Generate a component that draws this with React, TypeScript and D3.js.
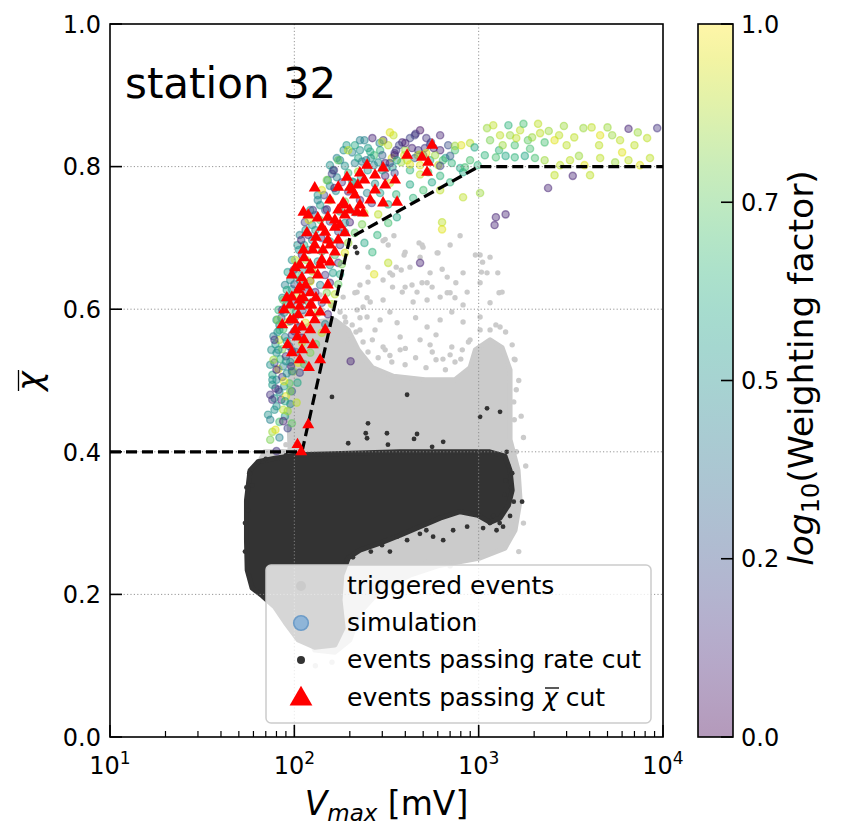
import React from 'react';
import * as d3 from 'd3';

const W = 841;
const H = 840;

// ---------- data ----------
const xTicks = [10, 100, 1000, 10000];
const xTickExp = ['1', '2', '3', '4'];
const yTicks = [0, 0.2, 0.4, 0.6, 0.8, 1.0];
const yTickLabels = ['0.0', '0.2', '0.4', '0.6', '0.8', '1.0'];
const gridX = [100, 1000];
const gridY = [0.2, 0.4, 0.6, 0.8];
const cbTicks = [0, 0.25, 0.5, 0.75, 1];
const cbTickLabels = ['0.0', '0.2', '0.5', '0.7', '1.0'];

// chi-bar cut line
const cutV = [10, 110, 200, 1000, 10000];
const cutChi = [0.4, 0.4, 0.7, 0.8, 0.8];

// dense core of triggered events (outline, [V mV, chi])
const triggeredCore: [number, number][] = [
  [94.8, 0.4], [93.6, 0.445], [94.8, 0.501], [97, 0.55], [107, 0.571], [129, 0.582], [166, 0.585], [196, 0.571],
  [222, 0.543], [265, 0.518], [345, 0.506], [511, 0.501], [744, 0.501], [898, 0.518], [960, 0.543], [1153, 0.557],
  [1340, 0.546], [1480, 0.515], [1480, 0.417], [1636, 0.374], [1678, 0.332], [1575, 0.29], [1390, 0.265],
  [1018, 0.251], [618, 0.241], [424, 0.227], [292, 0.206], [227, 0.175], [200, 0.136], [166, 0.119], [129, 0.122],
  [107, 0.178], [84, 0.248], [65, 0.332], [61, 0.374], [69, 0.4],
];
// scattered triggered events
const triggeredPoints: [number, number][] = [
  [303, 0.696], [347, 0.703], [311, 0.698], [475, 0.693], [499, 0.687], [793, 0.703], [700, 0.69], [602, 0.679],
  [399, 0.68], [394, 0.676], [481, 0.673], [251, 0.659], [357, 0.659], [380, 0.655], [424, 0.659], [341, 0.648],
  [545, 0.651], [634, 0.656], [675, 0.645], [823, 0.651], [1018, 0.676], [1153, 0.673], [1050, 0.666], [1110, 0.651],
  [1290, 0.623], [1018, 0.637], [227, 0.634], [219, 0.624], [303, 0.641], [341, 0.631], [385, 0.624], [435, 0.634],
  [493, 0.637], [559, 0.631], [700, 0.623], [752, 0.637], [866, 0.624], [618, 0.617], [303, 0.613], [258, 0.61],
  [823, 0.606], [1153, 0.609], [323, 0.69], [493, 0.69], [595, 0.679], [960, 0.676], [1035, 0.652], [1340, 0.624],
  [1270, 0.651], [251, 0.638], [330, 0.651], [399, 0.631], [463, 0.624], [525, 0.637], [675, 0.623], [744, 0.616],
  [525, 0.613], [441, 0.61], [248, 0.616], [219, 0.599], [248, 0.589], [292, 0.585], [330, 0.596], [361, 0.581],
  [455, 0.588], [525, 0.575], [618, 0.585], [715, 0.596], [823, 0.582], [1018, 0.589], [1153, 0.571], [1306, 0.575],
  [375, 0.561], [481, 0.557], [587, 0.564], [715, 0.547], [898, 0.557], [227, 0.571], [265, 0.557], [303, 0.547],
  [193, 0.557], [206, 0.578], [188, 0.589], [184, 0.617], [213, 0.623], [236, 0.603], [1600, 0.4], [1700, 0.45],
  [1750, 0.42], [1650, 0.5], [1560, 0.53], [1800, 0.38], [1750, 0.3], [1650, 0.26], [430, 0.235], [520, 0.245],
  [700, 0.24], [300, 0.22], [250, 0.2], [200, 0.175], [190, 0.14], [160, 0.105], [130, 0.1], [1550, 0.47],
  [400, 0.545], [560, 0.54], [640, 0.53], [800, 0.53], [330, 0.535], [1000, 0.545],
  [105, 0.578], [113, 0.592], [125, 0.613], [141, 0.599], [160, 0.606], [177, 0.596], [190, 0.582], [216, 0.568],
  [236, 0.554], [251, 0.54], [285, 0.532], [311, 0.543], [338, 0.526], [399, 0.522], [455, 0.532], [518, 0.518],
  [587, 0.529], [660, 0.515], [744, 0.526], [815, 0.543], [880, 0.554], [1018, 0.571], [1240, 0.578], [1400, 0.568],
  [1520, 0.55], [1575, 0.529], [1600, 0.487], [1560, 0.445], [375, 0.543], [545, 0.55], [274, 0.571], [227, 0.588],
  [156, 0.571], [138, 0.62], [122, 0.627], [103, 0.606], [107, 0.557], [700, 0.536], [292, 0.512], [90, 0.41],
  [86, 0.4], [80, 0.395],
];

// dense core of events passing the rate cut (outline)
const rateCutCore: [number, number][] = [
  [57.5, 0.374], [63.5, 0.386], [78.5, 0.391], [107, 0.396], [200, 0.398], [375, 0.4], [700, 0.4], [1150, 0.4],
  [1390, 0.394], [1480, 0.374], [1520, 0.346], [1450, 0.325], [1306, 0.307], [1153, 0.301], [990, 0.311],
  [793, 0.316], [618, 0.307], [481, 0.295], [375, 0.283], [292, 0.272], [227, 0.262], [196, 0.251], [181, 0.227],
  [177, 0.192], [184, 0.153], [166, 0.129], [129, 0.126], [105, 0.136], [89, 0.161], [78.5, 0.182], [67, 0.198],
  [59, 0.209], [55.5, 0.234], [55, 0.276], [55, 0.332],
];
const rateCutPoints: [number, number][] = [
  [214, 0.687], [219, 0.679], [160, 0.477], [409, 0.48], [251, 0.44], [244, 0.426], [248, 0.419], [318, 0.426],
  [322, 0.41], [463, 0.425], [446, 0.418], [642, 0.414], [559, 0.407], [196, 0.412], [1018, 0.449], [1306, 0.456],
  [1110, 0.461], [64, 0.386], [59, 0.353], [56, 0.318], [1720, 0.33], [1356, 0.295], [1057, 0.293], [409, 0.276],
  [361, 0.281], [299, 0.269], [208, 0.252], [193, 0.248], [566, 0.281], [727, 0.29], [866, 0.295], [642, 0.276],
  [1400, 0.36], [1450, 0.38], [1500, 0.35], [1550, 0.33], [1480, 0.31], [1300, 0.3], [1200, 0.31], [1420, 0.4],
  [1380, 0.34], [1520, 0.37], [1250, 0.29], [1150, 0.3], [480, 0.285], [520, 0.29], [330, 0.26], [260, 0.26],
  [54, 0.26], [54, 0.3], [55, 0.35], [57, 0.37], [70, 0.39], [90, 0.395],
];

// simulation [V mV, chi, log10(weighting factor)]
const simulation: [number, number, number][] = [
  [80, 0.401, 0.15], [76, 0.428, 0.85], [83, 0.442, 0.7], [89, 0.45, 0.55], [87, 0.459, 0.9], [80, 0.464, 0.5],
  [95, 0.467, 0.45], [85, 0.473, 0.1], [78, 0.475, 0.55], [90, 0.478, 0.95], [83, 0.484, 0.5], [97, 0.485, 0.3],
  [79, 0.489, 0.1], [88, 0.492, 0.55], [94, 0.496, 0.75], [80, 0.501, 0.45], [86, 0.505, 0.15], [76, 0.508, 0.6],
  [91, 0.51, 0.5], [99, 0.513, 0.85], [82, 0.516, 0.95], [87, 0.52, 0.45], [78, 0.525, 0.2], [95, 0.526, 0.5],
  [84, 0.53, 0.65], [90, 0.534, 0.1], [80, 0.539, 0.5], [102, 0.54, 0.45], [86, 0.544, 0.8], [94, 0.548, 0.3],
  [79, 0.551, 0.55], [83, 0.557, 0.9], [89, 0.561, 0.45], [97, 0.564, 0.15], [81, 0.568, 0.5], [87, 0.572, 0.7],
  [106, 0.575, 0.1], [83, 0.578, 0.45], [92, 0.582, 0.95], [85, 0.588, 0.2], [101, 0.589, 0.55], [88, 0.595, 0.5],
  [95, 0.599, 0.75], [111, 0.599, 0.3], [90, 0.606, 0.45], [97, 0.611, 0.15], [120, 0.609, 0.65], [92, 0.617, 0.55],
  [104, 0.621, 0.9], [97, 0.628, 0.5], [130, 0.624, 0.1], [100, 0.635, 0.25], [107, 0.641, 0.55], [138, 0.634, 0.45],
  [102, 0.648, 0.7], [111, 0.655, 0.5], [147, 0.648, 0.15], [106, 0.662, 0.45], [116, 0.669, 0.85], [156, 0.662, 0.5],
  [110, 0.676, 0.1], [120, 0.683, 0.5], [166, 0.676, 0.7], [113, 0.69, 0.6], [125, 0.697, 0.45], [177, 0.69, 0.2],
  [119, 0.704, 0.15], [130, 0.711, 0.55], [188, 0.708, 0.45], [125, 0.718, 0.5], [138, 0.725, 0.75], [200, 0.722, 0.1],
  [130, 0.732, 0.45], [147, 0.739, 0.3], [213, 0.736, 0.5], [138, 0.746, 0.55], [156, 0.753, 0.9], [227, 0.753, 0.1],
  [145, 0.76, 0.2], [168, 0.766, 0.5], [248, 0.763, 0.45], [156, 0.773, 0.5], [181, 0.778, 0.15], [274, 0.776, 0.5],
  [170, 0.785, 0.45], [196, 0.791, 0.65], [311, 0.787, 0.1], [188, 0.801, 0.5], [213, 0.805, 0.45], [341, 0.799, 0.55],
  [206, 0.82, 0.45], [227, 0.823, 0.5], [251, 0.826, 0.55], [222, 0.812, 0.6], [245, 0.809, 0.4], [271, 0.816, 0.7],
  [292, 0.823, 0.65], [323, 0.83, 0.9], [285, 0.806, 0.5], [316, 0.798, 0.45], [338, 0.812, 0.95], [357, 0.823, 0.15],
  [385, 0.834, 0.1], [424, 0.84, 0.2], [481, 0.851, 0.05], [435, 0.826, 0.1], [467, 0.816, 0.9], [511, 0.826, 0.15],
  [551, 0.834, 0.2], [618, 0.823, 0.1], [683, 0.83, 0.25], [380, 0.806, 0.85], [424, 0.795, 0.65], [481, 0.802, 0.95],
  [545, 0.809, 0.6], [532, 0.792, 0.7], [604, 0.802, 0.9], [660, 0.812, 0.55], [744, 0.823, 0.7], [804, 0.83, 0.95],
  [898, 0.833, 0.9], [715, 0.805, 0.65], [793, 0.798, 0.6], [898, 0.809, 0.7], [988, 0.802, 0.65], [558, 0.778, 0.6],
  [618, 0.767, 0.9], [700, 0.778, 0.65], [823, 0.792, 0.6], [441, 0.756, 0.65], [501, 0.767, 0.7], [360, 0.729, 0.6],
  [323, 0.721, 0.7], [282, 0.704, 0.65], [240, 0.693, 0.6], [265, 0.68, 0.65], [323, 0.665, 0.9], [271, 0.649, 0.95],
  [481, 0.665, 0.1], [633, 0.722, 0.9], [633, 0.712, 0.95], [823, 0.757, 0.9], [1018, 0.763, 0.85], [1240, 0.729, 0.1],
  [1400, 0.733, 0.1], [1220, 0.718, 0.1], [2380, 0.77, 0.1], [3240, 0.787, 0.1], [202, 0.527, 0.1],
  [177, 0.809, 0.45], [162, 0.795, 0.5], [192, 0.83, 0.55], [213, 0.83, 0.6], [240, 0.837, 0.45], [265, 0.84, 0.1],
  [304, 0.837, 0.15], [345, 0.844, 0.9], [152, 0.781, 0.5], [134, 0.76, 0.5], [122, 0.739, 0.55], [114, 0.722, 0.2],
  [107, 0.704, 0.45], [104, 0.69, 0.5], [97, 0.669, 0.5], [92, 0.652, 0.55], [89, 0.634, 0.45], [86, 0.616, 0.5],
  [82, 0.599, 0.65], [80, 0.585, 0.5], [77, 0.562, 0.45], [75, 0.543, 0.5], [74, 0.522, 0.5], [76, 0.494, 0.55],
  [74, 0.48, 0.15], [72, 0.452, 0.5], [156, 0.802, 0.5], [170, 0.812, 0.45], [185, 0.823, 0.5], [160, 0.79, 0.2],
  [150, 0.74, 0.1], [165, 0.77, 0.05], [140, 0.7, 0.1], [122, 0.64, 0.1], [110, 0.56, 0.05], [96, 0.52, 0.1],
  [300, 0.816, 0.3], [330, 0.805, 0.2], [350, 0.816, 0.05], [370, 0.83, 0.2], [395, 0.816, 0.95], [410, 0.809, 0.9],
  [450, 0.812, 0.3], [470, 0.823, 0.15], [500, 0.816, 0.2], [520, 0.819, 0.95], [580, 0.816, 0.85], [640, 0.809, 0.7],
  [570, 0.826, 0.1], [520, 0.84, 0.15], [450, 0.844, 0.2], [400, 0.823, 0.85], [360, 0.809, 0.6], [300, 0.795, 0.55],
  [270, 0.802, 0.45], [250, 0.795, 0.5], [230, 0.785, 0.55], [210, 0.778, 0.6], [260, 0.812, 0.5], [290, 0.833, 0.45],
  [74, 0.417, 0.8], [83, 0.42, 0.45], [79, 0.431, 0.95], [92, 0.433, 0.2], [74, 0.445, 0.45], [87, 0.443, 0.1],
  [97, 0.44, 0.75], [78, 0.459, 0.5], [92, 0.457, 0.85], [76, 0.473, 0.15], [89, 0.471, 0.6], [103, 0.469, 0.9],
  [82, 0.487, 0.2], [95, 0.485, 0.8], [76, 0.501, 0.5], [88, 0.499, 0.95], [104, 0.497, 0.6], [80, 0.515, 0.1],
  [97, 0.513, 0.4], [107, 0.511, 0.2], [77, 0.529, 0.85], [90, 0.527, 0.5], [105, 0.525, 0.95], [113, 0.523, 0.7],
  [82, 0.543, 0.5], [97, 0.541, 0.1], [122, 0.539, 0.8], [78, 0.557, 0.15], [91, 0.555, 0.55], [110, 0.553, 0.9],
  [131, 0.551, 0.75], [83, 0.571, 0.6], [100, 0.569, 0.1], [141, 0.567, 0.9], [81, 0.585, 0.8], [95, 0.583, 0.2],
  [115, 0.581, 0.95], [147, 0.579, 0.45], [86, 0.599, 0.1], [102, 0.597, 0.6], [134, 0.595, 0.85], [152, 0.593, 0.1],
  [87, 0.613, 0.75], [109, 0.611, 0.5], [141, 0.609, 0.2], [160, 0.607, 0.9], [91, 0.627, 0.6], [116, 0.625, 0.15],
  [150, 0.623, 0.8], [166, 0.621, 0.9], [95, 0.641, 0.5], [122, 0.639, 0.95], [156, 0.637, 0.1], [173, 0.635, 0.75],
  [99, 0.655, 0.2], [125, 0.653, 0.85], [162, 0.651, 0.55], [177, 0.649, 0.6], [101, 0.669, 0.9], [134, 0.667, 0.5],
  [173, 0.665, 0.15], [181, 0.663, 0.8], [106, 0.683, 0.5], [141, 0.681, 0.7], [188, 0.679, 0.95], [109, 0.697, 0.1],
  [156, 0.695, 0.55], [196, 0.693, 0.85], [115, 0.711, 0.5], [173, 0.709, 0.2], [213, 0.707, 0.75], [120, 0.725, 0.95],
  [156, 0.723, 0.2], [188, 0.721, 0.5], [233, 0.719, 0.8], [126, 0.739, 0.15], [177, 0.737, 0.6], [240, 0.735, 0.9],
  [285, 0.733, 0.9], [134, 0.753, 0.45], [188, 0.751, 0.8], [263, 0.749, 0.2], [323, 0.747, 0.6], [141, 0.767, 0.95],
  [196, 0.765, 0.1], [292, 0.763, 0.55], [357, 0.761, 0.65], [150, 0.781, 0.8], [206, 0.779, 0.55], [330, 0.777, 0.9],
  [424, 0.775, 0.6], [164, 0.795, 0.15], [222, 0.793, 0.85], [350, 0.791, 0.2], [481, 0.789, 0.9], [618, 0.787, 0.65],
  [173, 0.809, 0.75], [233, 0.807, 0.45], [311, 0.805, 0.1], [424, 0.803, 0.95], [618, 0.801, 0.2], [843, 0.799, 0.7],
  [196, 0.823, 0.9], [258, 0.821, 0.6], [350, 0.819, 0.15], [481, 0.817, 0.9], [700, 0.815, 0.3], [227, 0.837, 0.45],
  [300, 0.835, 0.9], [400, 0.833, 0.1], [545, 0.831, 0.2], [744, 0.829, 0.85], [950, 0.827, 0.6], [330, 0.848, 0.95],
  [455, 0.846, 0.15], [618, 0.844, 0.1],
  [1110, 0.854, 0.85], [1153, 0.837, 0.8], [1290, 0.823, 0.65], [1306, 0.844, 0.9], [1480, 0.844, 0.85],
  [1570, 0.83, 0.7], [1678, 0.851, 0.9], [1850, 0.837, 0.75], [1950, 0.841, 0.85], [2154, 0.847, 0.9],
  [2280, 0.834, 0.7], [2580, 0.837, 0.95], [2730, 0.844, 0.9], [3300, 0.841, 0.9], [3700, 0.854, 0.85],
  [4100, 0.855, 0.9], [4560, 0.844, 0.95], [5300, 0.844, 0.85], [5850, 0.837, 0.9], [6500, 0.853, 0.1],
  [7300, 0.848, 0.85], [8200, 0.84, 0.9], [9300, 0.854, 0.15], [1080, 0.816, 0.65], [1240, 0.813, 0.7],
  [1400, 0.815, 0.6], [1570, 0.813, 0.65], [1780, 0.815, 0.6], [2020, 0.812, 0.7], [2280, 0.809, 0.85],
  [2765, 0.802, 0.9], [3130, 0.809, 0.9], [3750, 0.802, 0.95], [4560, 0.812, 0.9], [5500, 0.806, 0.85],
  [6500, 0.809, 0.9], [7500, 0.802, 0.95], [8500, 0.812, 0.9], [4020, 0.788, 0.9], [2580, 0.788, 0.9],
  [1200, 0.858, 0.9], [1350, 0.83, 0.85], [1600, 0.84, 0.9], [1900, 0.825, 0.7], [2400, 0.85, 0.85],
  [3000, 0.83, 0.9], [3500, 0.815, 0.85], [4500, 0.83, 0.9], [5000, 0.855, 0.85], [6000, 0.82, 0.95],
  [7000, 0.83, 0.9], [1450, 0.858, 0.65], [1750, 0.86, 0.7], [2100, 0.86, 0.9], [2900, 0.857, 0.85],
];

// events passing the chi-bar cut
const chiCut: [number, number][] = [
  [409, 0.816], [248, 0.802], [303, 0.798], [193, 0.785], [227, 0.791], [129, 0.77], [173, 0.771], [201, 0.771],
  [221, 0.774], [274, 0.767], [361, 0.75], [303, 0.749], [258, 0.753], [156, 0.753], [184, 0.749], [219, 0.736],
  [236, 0.735], [112, 0.736], [119, 0.732], [134, 0.728], [152, 0.729], [173, 0.739], [141, 0.715], [166, 0.715],
  [188, 0.707], [117, 0.707], [131, 0.701], [152, 0.697], [173, 0.697], [112, 0.683], [126, 0.683], [143, 0.683],
  [166, 0.68], [107, 0.662], [122, 0.662], [141, 0.669], [156, 0.666], [97, 0.648], [110, 0.644], [122, 0.655],
  [134, 0.648], [107, 0.631], [122, 0.623], [97, 0.617], [91, 0.616], [112, 0.616], [131, 0.616], [138, 0.596],
  [122, 0.595], [105, 0.592], [99, 0.585], [110, 0.575], [122, 0.571], [104, 0.561], [113, 0.557], [97, 0.539],
  [110, 0.543], [138, 0.529], [120, 0.518], [119, 0.438], [104, 0.41], [109, 0.4], [559, 0.83], [493, 0.813],
  [532, 0.806], [525, 0.792], [107, 0.604], [122, 0.606], [188, 0.732], [206, 0.767],
  [101, 0.658], [113, 0.672], [129, 0.69], [147, 0.708], [166, 0.725], [188, 0.746], [213, 0.76], [240, 0.781],
  [274, 0.788], [311, 0.774], [352, 0.781], [95, 0.606], [107, 0.613], [124, 0.606], [147, 0.613], [101, 0.571],
  [129, 0.585], [92, 0.55], [107, 0.529], [126, 0.55], [147, 0.571], [156, 0.69], [138, 0.662], [177, 0.718],
  [200, 0.739], [227, 0.746], [152, 0.634], [105, 0.627], [115, 0.634], [95, 0.585], [88, 0.599], [86, 0.578],
];

const legendLabels = ['triggered events', 'simulation', 'events passing rate cut'];

// ---------- component ----------
const FONT = 'DejaVu Sans, sans-serif';

export default function App() {
  const x = d3.scaleLog().domain([10, 1e4]).range([110, 663]);
  const y = d3.scaleLinear().domain([0, 1]).range([737, 24]);
  const cb = d3.scaleLinear().domain([0, 1]).range([737, 24]);

  const area = d3
    .line<[number, number]>()
    .x((d) => x(d[0]))
    .y((d) => y(d[1]))
    .curve(d3.curveLinearClosed);
  const cutLine = d3
    .line<number>()
    .x((_, i) => x(cutV[i]))
    .y((_, i) => y(cutChi[i]));
  const tri = d3.symbol(d3.symbolTriangle, 62)() as string;
  const triBig = d3.symbol(d3.symbolTriangle, 225)() as string;

  const minor: number[] = [];
  [10, 100, 1000].forEach((dec) => {
    for (let k = 2; k <= 9; k++) minor.push(dec * k);
  });

  const stops = d3.range(0, 1.0001, 0.05);

  return (
    <svg
      width={W}
      height={H}
      style={{ position: 'absolute', left: 0, top: 0, background: '#fff' }}
      fontFamily={FONT}
    >
      <defs>
        <linearGradient id="cbgrad" x1="0" y1="1" x2="0" y2="0">
          {stops.map((t, i) => (
            <stop key={i} offset={t} stopColor={d3.interpolateViridis(t)} />
          ))}
        </linearGradient>
        <clipPath id="plotclip">
          <rect x={110} y={24} width={553} height={713} />
        </clipPath>
      </defs>
      <rect x={0} y={0} width={W} height={H} fill="#fff" />

      <g clipPath="url(#plotclip)">
        {/* triggered events */}
        <path d={area(triggeredCore) as string} fill="#cbcbcb" stroke="#cbcbcb" strokeWidth={5} strokeLinejoin="round" />
        {triggeredPoints.map((d, i) => (
          <circle key={'t' + i} cx={x(d[0])} cy={y(d[1])} r={2.7} fill="#cbcbcb" />
        ))}
        {/* rate cut */}
        <path d={area(rateCutCore) as string} fill="#333333" stroke="#333333" strokeWidth={5} strokeLinejoin="round" />
        {rateCutPoints.map((d, i) => (
          <circle key={'r' + i} cx={x(d[0])} cy={y(d[1])} r={2.4} fill="#333333" />
        ))}
        {/* simulation */}
        {simulation.map((d, i) => {
          const c = d3.interpolateViridis(d[2]);
          return (
            <circle
              key={'s' + i}
              cx={x(d[0])}
              cy={y(d[1])}
              r={3.6}
              fill={c}
              fillOpacity={0.42}
              stroke={c}
              strokeOpacity={0.5}
              strokeWidth={1.4}
            />
          );
        })}
        {/* grid */}
        {gridX.map((v) => (
          <line key={'gx' + v} x1={x(v)} x2={x(v)} y1={24} y2={737} stroke="#8a8a8a" strokeWidth={0.9} strokeDasharray="1.2,2.2" />
        ))}
        {gridY.map((v) => (
          <line key={'gy' + v} x1={110} x2={663} y1={y(v)} y2={y(v)} stroke="#8a8a8a" strokeWidth={0.9} strokeDasharray="1.2,2.2" />
        ))}
        {/* cut line */}
        <path d={cutLine(cutV) as string} fill="none" stroke="#000" strokeWidth={3.2} strokeDasharray="11,5" />
        {/* chi cut */}
        {chiCut.map((d, i) => (
          <path key={'c' + i} d={tri} transform={`translate(${x(d[0])},${y(d[1])})`} fill="#ff0000" />
        ))}
      </g>

      {/* station label */}
      <text x={125} y={98} fontSize={42}>station 32</text>

      {/* frame */}
      <rect x={110} y={24} width={553} height={713} fill="none" stroke="#000" strokeWidth={1.6} />

      {/* y ticks */}
      {yTicks.map((v, i) => (
        <g key={'yt' + i}>
          <line x1={110} x2={122} y1={y(v)} y2={y(v)} stroke="#000" strokeWidth={1.6} />
          <text x={101} y={y(v) + 8.7} fontSize={24} textAnchor="end">{yTickLabels[i]}</text>
        </g>
      ))}
      {/* x ticks */}
      {xTicks.map((v, i) => (
        <g key={'xt' + i}>
          <line x1={x(v)} x2={x(v)} y1={737} y2={725} stroke="#000" strokeWidth={1.6} />
          <text x={x(v)} y={774} fontSize={24} textAnchor="middle">
            10<tspan fontSize={17} dy={-10}>{xTickExp[i]}</tspan>
          </text>
        </g>
      ))}
      {minor.map((v) => (
        <line key={'mx' + v} x1={x(v)} x2={x(v)} y1={737} y2={731} stroke="#000" strokeWidth={1.2} />
      ))}

      {/* axis labels */}
      <text x={386.5} y={815} fontSize={33} textAnchor="middle">
        <tspan fontStyle="italic">V</tspan>
        <tspan fontStyle="italic" fontSize={23} dy={6}>max</tspan>
        <tspan dy={-6}> [mV]</tspan>
      </text>
      <g transform="translate(41,381) rotate(-90)">
        <text x={0} y={0} fontSize={33} fontStyle="italic" textAnchor="middle">χ</text>
        <line x1={-10} x2={11} y1={-22.5} y2={-22.5} stroke="#000" strokeWidth={1.3} />
      </g>

      {/* legend */}
      <g>
        <rect x={266} y={565} width={385} height={158} rx={5} fill="#fff" fillOpacity={0.8} stroke="#cccccc" strokeWidth={1.5} />
        <circle cx={301} cy={586} r={5} fill="#cbcbcb" />
        <circle cx={301} cy={623} r={7.3} fill="#8fb5d8" stroke="#6d9cc8" strokeWidth={1.6} />
        <circle cx={301} cy={660} r={4} fill="#333333" />
        <path d={triBig} transform="translate(301,699)" fill="#ff0000" />
        {legendLabels.map((l, i) => (
          <text key={l} x={347} y={594 + i * 37} fontSize={25}>{l}</text>
        ))}
        <text x={347} y={706} fontSize={25}>
          events passing <tspan fontStyle="italic">χ</tspan> cut
        </text>
        <line x1={545} x2={559} y1={688} y2={688} stroke="#000" strokeWidth={1.3} />
      </g>

      {/* colorbar */}
      <rect x={698} y={24} width={35} height={713} fill="url(#cbgrad)" opacity={0.4} />
      <rect x={698} y={24} width={35} height={713} fill="none" stroke="#000" strokeWidth={1.6} />
      {cbTicks.map((v, i) => (
        <g key={'cb' + i}>
          <line x1={733} x2={721} y1={cb(v)} y2={cb(v)} stroke="#000" strokeWidth={1.6} />
          <text x={741} y={cb(v) + 8.7} fontSize={24}>{cbTickLabels[i]}</text>
        </g>
      ))}
      <g transform="translate(813,368) rotate(-90)">
        <text x={0} y={0} fontSize={34.5} textAnchor="middle">
          <tspan fontStyle="italic">log</tspan>
          <tspan fontSize={24} dy={6}>10</tspan>
          <tspan dy={-6}>(Weighting factor)</tspan>
        </text>
      </g>
    </svg>
  );
}
